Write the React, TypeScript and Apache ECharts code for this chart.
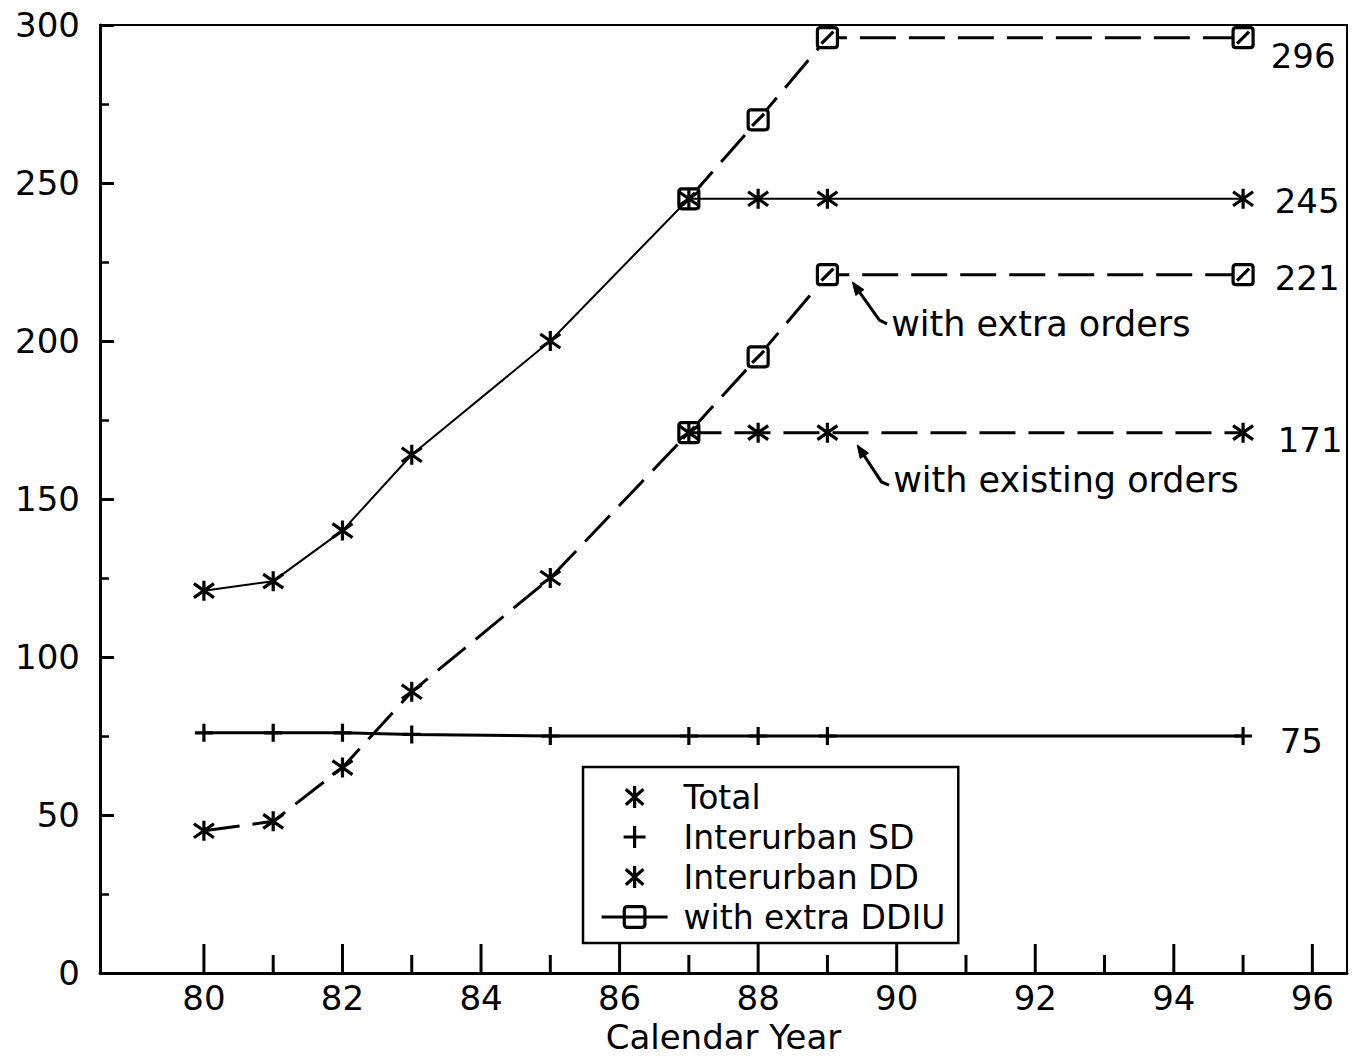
import React, { useEffect, useRef } from 'react';
import * as echarts from 'echarts';

// ---- data ----
const xYears = [80, 81, 82, 83, 85, 87, 88, 89, 95];
const totalValues = [121, 124, 140, 164, 200, 245, 245, 245, 245];
const sdValues = [76, 76, 76, 75.5, 75, 75, 75, 75, 75];
const ddValues = [45, 48, 65, 89, 125, 171, 171, 171, 171];
const extraYears = [87, 88, 89, 95];
const totalExtraValues = [245, 270, 296, 296];
const ddExtraValues = [171, 195, 221, 221];
const xTickYears = [80, 81, 82, 83, 84, 85, 86, 87, 88, 89, 90, 91, 92, 93, 94, 95, 96];
const legendNames = ['Total', 'Interurban SD', 'Interurban DD', 'with extra DDIU'];
const annotationTexts = ['with extra orders', 'with existing orders'];
const annotationTips = [[89.36, 218.7], [89.43, 167.1]];
const annotationElbows = [[89.75, 206.6], [89.78, 155.4]];
const annotationHooks = [[89.86, 205.4], [89.89, 154.4]];
const annotationTextPos = [[89.92, 205.3], [89.95, 156.0]];

const FONT = 'DejaVu Sans';
const ASTERISK = 'path://M-8,-7 L8,7 M-8,7 L8,-7 M0,-10 L0,10';
const PLUS = 'path://M-9,0 L9,0 M0,-9 L0,9';
const SQUARE = 'path://M-7,-10 L7,-10 Q10,-10 10,-7 L10,7 Q10,10 7,10 L-7,10 Q-10,10 -10,7 L-10,-7 Q-10,-10 -7,-10 Z M-6,6 L6,-6';
const SQUARE_LEGEND = 'path://M-32,0 L-10,0 M10,0 L32,0 M-7,-10 L7,-10 Q10,-10 10,-7 L10,7 Q10,10 7,10 L-7,10 Q-10,10 -10,7 L-10,-7 Q-10,-10 -7,-10 Z M-10,0 L10,0';

function endLabel(v: number, dy: number, dx = 0) {
  return {
    show: true,
    position: 'right',
    distance: 20,
    offset: [dx, dy],
    formatter: String(v),
    fontSize: 34,
    fontFamily: FONT,
    color: '#000',
  };
}

function buildData(xs: number[], vs: number[], labelV: number, dy: number, dx = 0) {
  return xs.map((x, i) =>
    i === xs.length - 1 ? { value: [x, vs[i]], label: endLabel(labelV, dy, dx) } : [x, vs[i]]
  );
}

export default function App() {
  const ref = useRef<HTMLDivElement>(null);

  useEffect(() => {
    const chart = echarts.init(ref.current!, null, { renderer: 'svg' });

    const starItem = { color: '#000', borderColor: '#000', borderWidth: 3.2 };
    const squareItem = { color: '#fff', borderColor: '#000', borderWidth: 3.2 };

    const option: any = {
      animation: false,
      backgroundColor: '#fff',
      grid: {
        left: 100,
        right: 5,
        top: 25,
        bottom: 86,
        containLabel: false,
        outerBoundsMode: 'none',
        show: true,
        borderColor: '#000',
        borderWidth: 2,
        backgroundColor: 'transparent',
      },
      xAxis: {
        type: 'value',
        min: 78.5,
        max: 96.5,
        interval: 0.5,
        axisLine: { show: true, lineStyle: { color: '#000', width: 3 } },
        axisTick: { show: false },
        splitLine: { show: false },
        axisLabel: {
          margin: 8,
          fontSize: 34,
          lineHeight: 34,
          fontFamily: FONT,
          color: '#000',
          showMinLabel: false,
          showMaxLabel: false,
          formatter: (v: number) => (Number.isInteger(v) && v % 2 === 0 ? String(v) : ''),
        },
        name: 'Calendar Year',
        nameLocation: 'middle',
        nameGap: 47,
        nameMoveOverlap: false,
        nameTextStyle: {
          fontSize: 34,
          lineHeight: 34,
          fontFamily: FONT,
          color: '#000',
          verticalAlign: 'top',
        },
      },
      yAxis: {
        type: 'value',
        min: 0,
        max: 300,
        interval: 50,
        axisLine: { show: true, lineStyle: { color: '#000', width: 3 } },
        axisTick: { show: true, inside: true, length: 14, lineStyle: { color: '#000', width: 3 } },
        minorTick: { show: true, splitNumber: 2, length: 9, lineStyle: { color: '#000', width: 2.5 } },
        splitLine: { show: false },
        minorSplitLine: { show: false },
        axisLabel: { margin: 20, fontSize: 34, fontFamily: FONT, color: '#000' },
      },
      legend: {
        orient: 'vertical',
        left: 583,
        top: 767,
        padding: [12, 13, 8, 17],
        itemGap: 4,
        itemWidth: 66,
        itemHeight: 22,
        selectedMode: false,
        backgroundColor: '#fff',
        borderColor: '#000',
        borderWidth: 2.5,
        borderRadius: 0,
        textStyle: {
          fontSize: 33,
          fontFamily: FONT,
          color: '#000',
          lineHeight: 36,
          padding: [0, 0, 0, 11],
        },
        data: [
          { name: legendNames[0], icon: ASTERISK, itemStyle: starItem },
          { name: legendNames[1], icon: PLUS, itemStyle: starItem },
          { name: legendNames[2], icon: ASTERISK, itemStyle: starItem },
          { name: legendNames[3], icon: SQUARE_LEGEND, itemStyle: squareItem },
        ],
      },
      series: [
        {
          type: 'custom',
          name: 'xticks',
          silent: true,
          clip: false,
          z: 5,
          data: xTickYears.map((y) => [y, y % 2 === 0 ? 1 : 0]),
          renderItem: (params: any, api: any) => {
            const p = api.coord([api.value(0), 0]);
            const len = api.value(1) ? 29 : 18;
            return {
              type: 'line',
              shape: { x1: p[0], y1: p[1], x2: p[0], y2: p[1] - len },
              style: { stroke: '#000', lineWidth: 3 },
            };
          },
        },
        {
          type: 'line',
          name: legendNames[3],
          data: buildData(extraYears, totalExtraValues, 296, 18, -4),
          symbol: SQUARE,
          symbolSize: 20,
          showAllSymbol: true,
          lineStyle: { color: '#000', width: 3, type: [36, 13] },
          itemStyle: squareItem,
          z: 2,
        },
        {
          type: 'line',
          name: legendNames[3],
          data: buildData(extraYears, ddExtraValues, 221, 3),
          symbol: SQUARE,
          symbolSize: 20,
          showAllSymbol: true,
          lineStyle: { color: '#000', width: 3, type: [36, 13] },
          itemStyle: squareItem,
          z: 2,
        },
        {
          type: 'line',
          name: legendNames[0],
          data: buildData(xYears, totalValues, 245, 2),
          symbol: ASTERISK,
          symbolSize: 20,
          showAllSymbol: true,
          lineStyle: { color: '#000', width: 2 },
          itemStyle: starItem,
          z: 3,
        },
        {
          type: 'line',
          name: legendNames[1],
          data: buildData(xYears, sdValues, 75, 5, 6),
          symbol: PLUS,
          symbolSize: 18,
          showAllSymbol: true,
          lineStyle: { color: '#000', width: 3 },
          itemStyle: starItem,
          z: 3,
        },
        {
          type: 'line',
          name: legendNames[2],
          data: buildData(xYears, ddValues, 171, 7, 3),
          symbol: ASTERISK,
          symbolSize: 20,
          showAllSymbol: true,
          lineStyle: { color: '#000', width: 3, type: [36, 13] },
          itemStyle: starItem,
          z: 3,
        },
      ],
    };

    chart.setOption(option);

    const toPx = (p: number[]) =>
      chart.convertToPixel({ xAxisIndex: 0, yAxisIndex: 0 }, p) as number[];
    const graphics: any[] = [];
    annotationTexts.forEach((t, i) => {
      const tip = toPx(annotationTips[i]);
      const elbow = toPx(annotationElbows[i]);
      const hook = toPx(annotationHooks[i]);
      const tp = toPx(annotationTextPos[i]);
      const dx = tip[0] - elbow[0];
      const dy = tip[1] - elbow[1];
      const L = Math.sqrt(dx * dx + dy * dy) || 1;
      const ux = dx / L;
      const uy = dy / L;
      const headLen = 13;
      const headW = 5;
      const bx = tip[0] - ux * headLen;
      const by = tip[1] - uy * headLen;
      graphics.push({
        type: 'polyline',
        silent: true,
        shape: { points: [[bx, by], elbow, hook] },
        style: { stroke: '#000', lineWidth: 3, fill: null },
      });
      graphics.push({
        type: 'polygon',
        silent: true,
        shape: {
          points: [
            tip,
            [bx - uy * headW, by + ux * headW],
            [bx + uy * headW, by - ux * headW],
          ],
        },
        style: { fill: '#000', stroke: '#000', lineWidth: 1 },
      });
      graphics.push({
        type: 'text',
        silent: true,
        x: tp[0],
        y: tp[1],
        style: {
          text: t,
          fontSize: 35,
          fontFamily: FONT,
          fill: '#000',
          align: 'left',
          verticalAlign: 'middle',
        },
      });
    });
    chart.setOption({ graphic: graphics });

    return () => chart.dispose();
  }, []);

  return (
    <div
      ref={ref}
      style={{ position: 'fixed', left: 0, top: 0, width: 1352, height: 1059, background: '#fff' }}
    />
  );
}
